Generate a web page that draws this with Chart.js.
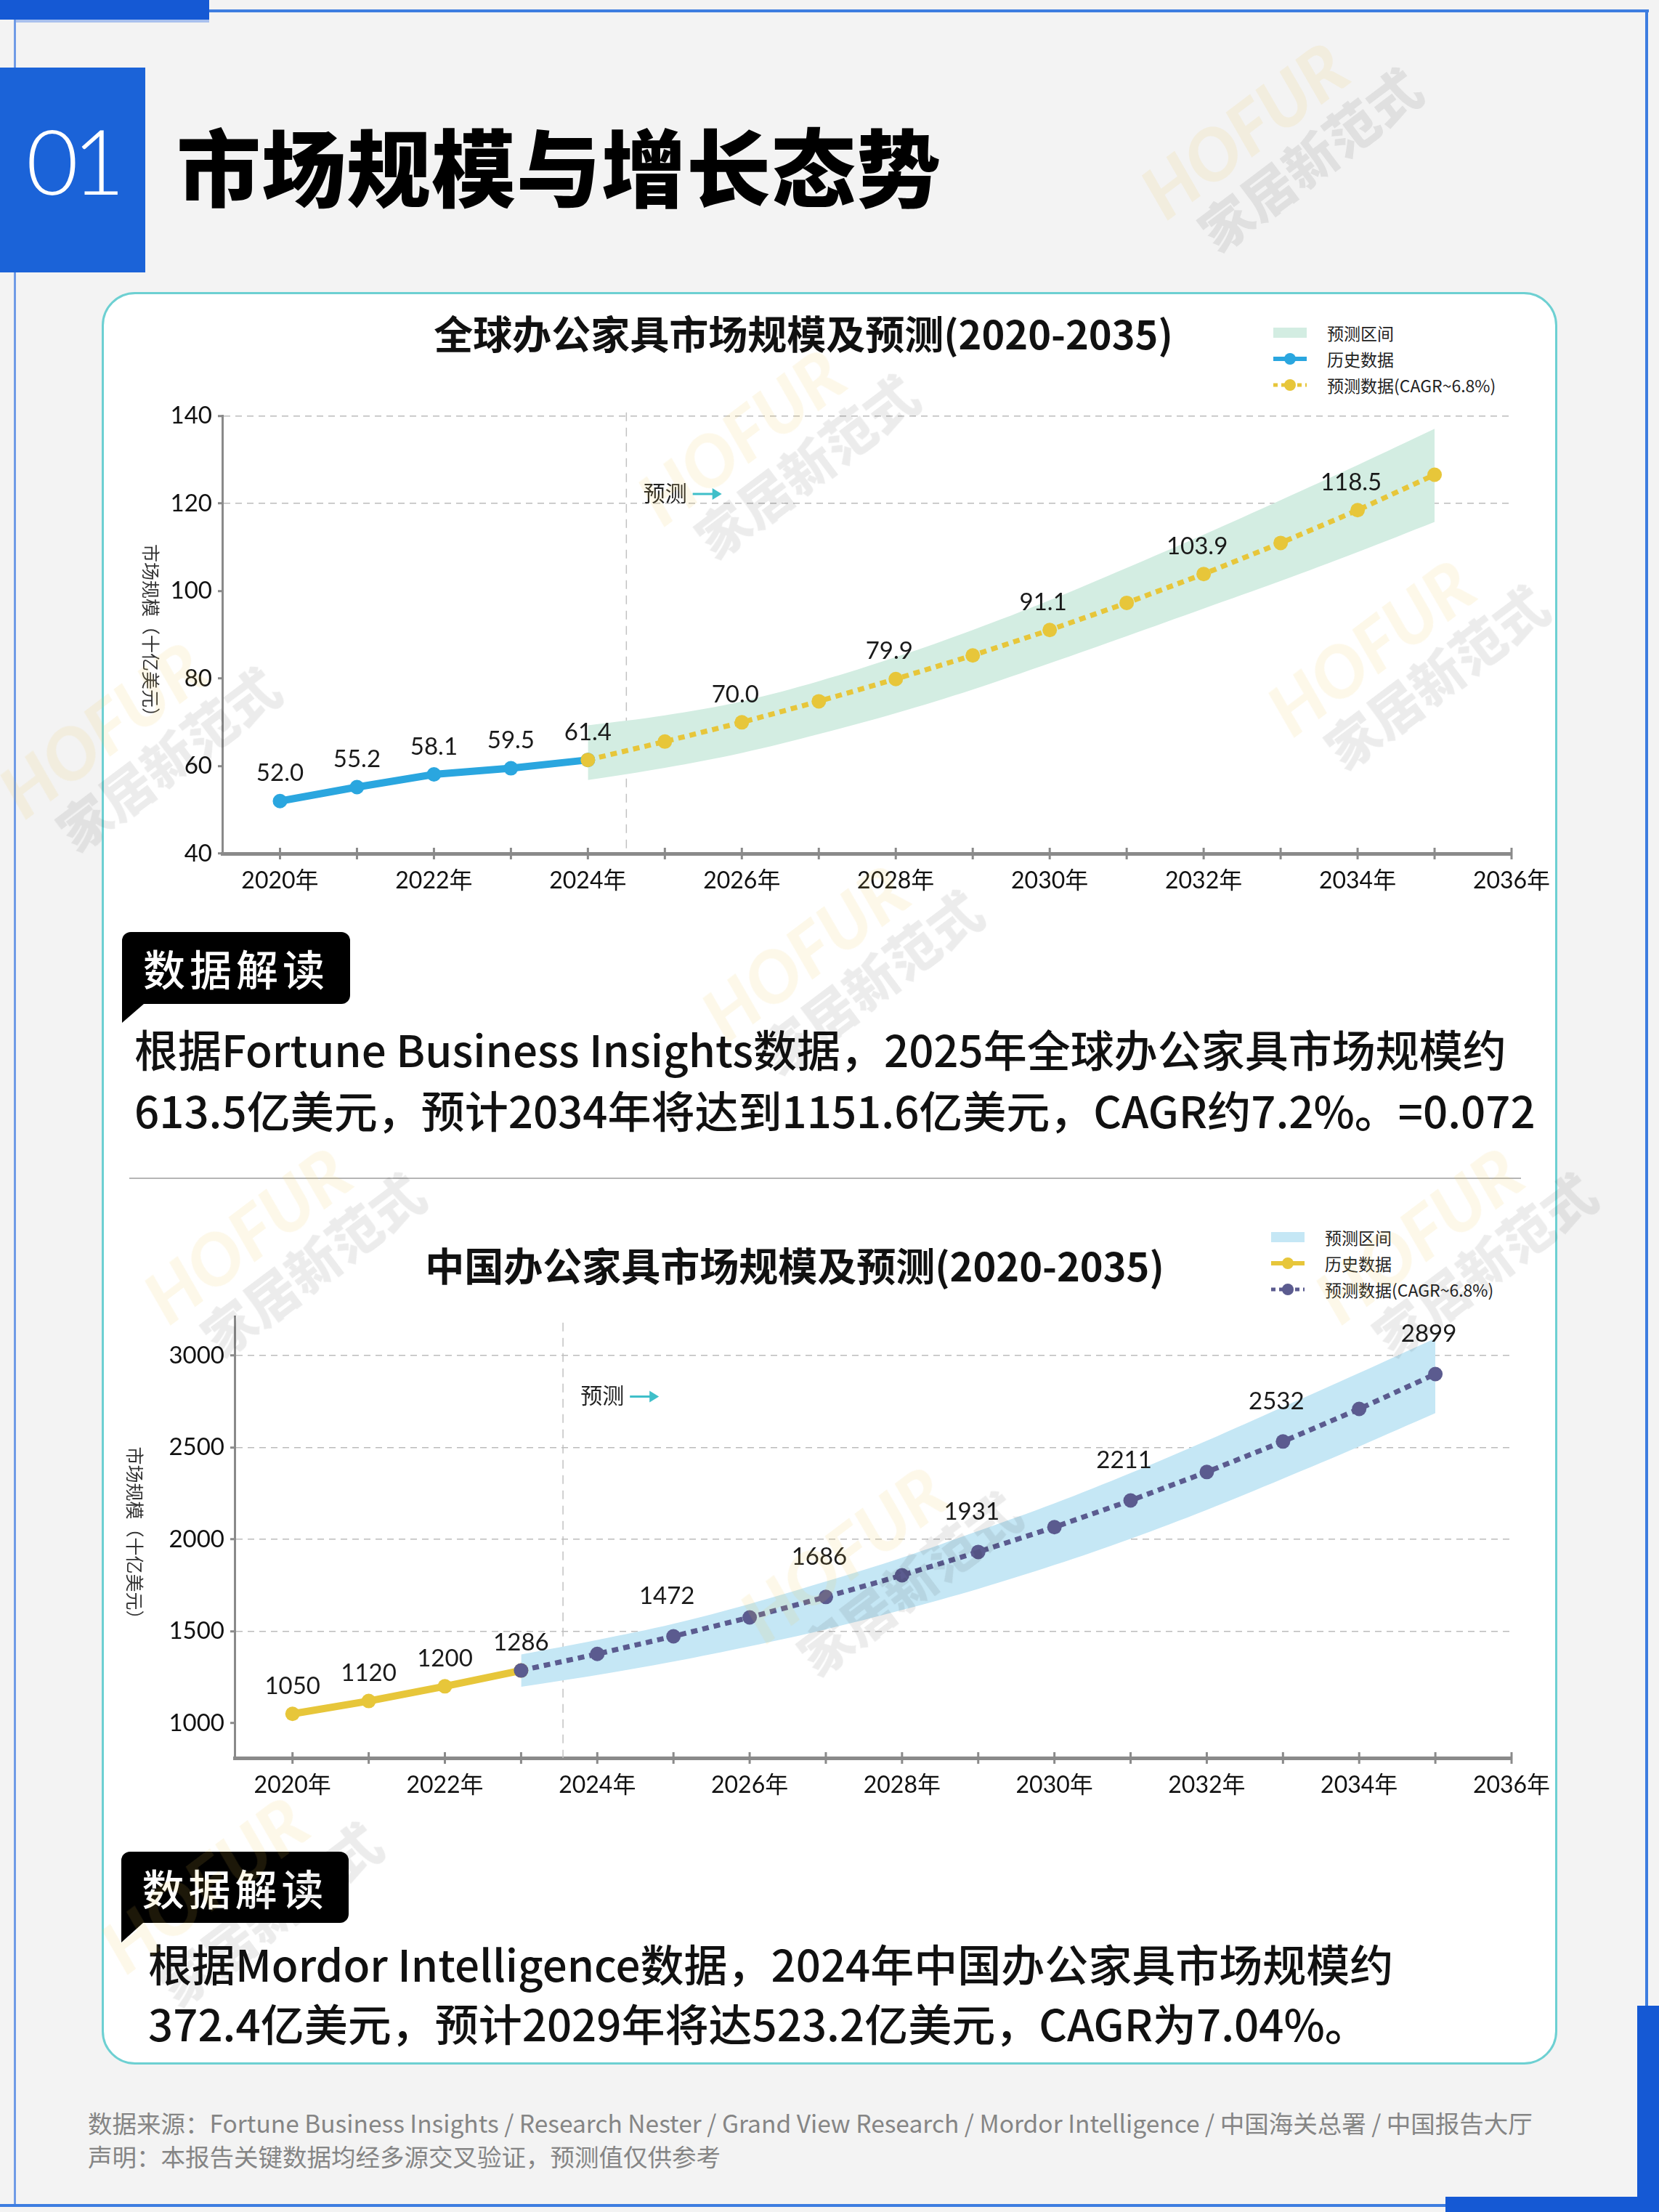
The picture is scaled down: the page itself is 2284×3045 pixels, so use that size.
<!DOCTYPE html>
<html lang="zh-CN">
<head>
<meta charset="utf-8">
<title>市场规模与增长态势</title>
<script src="https://cdn.jsdelivr.net/npm/chart.js@4.4.1/dist/chart.umd.min.js"></script>
<style>
html, body { margin: 0; padding: 0; }
body { width: 2284px; height: 3045px; position: relative; overflow: hidden; background: #f3f3f3; font-family: 'Noto Sans CJK SC', sans-serif; color: #111; }
.abs { position: absolute; }
.blue-dark { background: #1559d4; }
.blue-line { background: #3d7de0; }
.num-blk { left: 0; top: 93px; width: 200px; height: 282px; background: #1b63d8; color: #fff; font-family: Lato, sans-serif; font-weight: 300; font-size: 124px; line-height: 254px; text-align: center; letter-spacing: -8px; }
.page-title { left: 243px; top: 166px; font-size: 116px; line-height: 118px; font-weight: 900; color: #000; white-space: nowrap; letter-spacing: 1px; }
.card { left: 140px; top: 402px; width: 2004px; height: 2440px; box-sizing: border-box; background: #fff; border: 3px solid #6dd0d2; border-radius: 46px; }
.ctitle { transform: translateX(-50%); font-size: 54px; line-height: 60px; font-weight: 700; white-space: nowrap; color: #111; }
.legend { font-size: 23px; color: #222; }
.lg-row { display: flex; align-items: center; height: 36px; }
.lg-row svg { margin-right: 28px; }
.chart-box { width: 2000px; height: 700px; }
.tag { background: #000; color: #fff; border-radius: 12px; font-size: 58px; font-weight: 500; letter-spacing: 6px; text-align: center; }
.para { font-size: 60px; font-weight: 500; color: #111; white-space: nowrap; }
.sep { left: 178px; top: 1621px; width: 1916px; height: 2px; background: #b5b5b5; }
.foot { left: 121px; top: 2899px; font-size: 33.5px; line-height: 46px; color: #858585; white-space: nowrap; }
.wm { transform: translate(-50%, -50%) rotate(-37deg); pointer-events: none; z-index: 20; white-space: nowrap; }
.wm .en { display: block; font-family: Lato, sans-serif; font-weight: 900; font-style: italic; font-size: 98px; line-height: 92px; color: rgba(242, 196, 70, 0.12); }
.wm .cn { display: block; margin-left: 30px; font-weight: 900; font-size: 72px; line-height: 80px; color: rgba(0, 0, 0, 0.075); }
</style>
</head>
<body>

<div class="abs blue-dark" style="left:0;top:0;width:288px;height:27px"></div>
<div class="abs" style="left:22px;top:27px;width:266px;height:4px;background:#a9c1ee"></div>
<div class="abs blue-line" style="left:288px;top:13px;width:1982px;height:4px"></div>
<div class="abs blue-line" style="left:2265px;top:13px;width:4px;height:2750px"></div>
<div class="abs" style="left:19px;top:27px;width:3px;height:3008px;background:#6f9be6"></div>
<div class="abs blue-dark" style="left:2254px;top:2761px;width:30px;height:284px"></div>
<div class="abs blue-line" style="left:0;top:3034px;width:1990px;height:4px"></div>
<div class="abs blue-dark" style="left:1990px;top:3024px;width:294px;height:21px"></div>

<div class="abs num-blk">01</div>
<div class="abs page-title">市场规模与增长态势</div>

<div class="abs card"></div>

<div class="abs ctitle" style="left:1106px;top:428px">全球办公家具市场规模及预测(2020-2035)</div>
<div class="abs legend" id="legendGlobal" style="left:1753px;top:440px"></div>
<div class="abs chart-box" style="left:160px;top:545px"><canvas id="chartGlobal"></canvas></div>

<div class="abs tag" style="left:168px;top:1283px;width:314px;height:99px;line-height:99px">数据解读</div>
<svg class="abs" style="left:168px;top:1370px" width="34" height="40"><polygon points="0,0 30,12 0,38" fill="#000"/></svg>
<div class="abs para" style="left:185px;top:1401px;line-height:84px">根据Fortune Business Insights数据，2025年全球办公家具市场规模约<br>613.5亿美元，预计2034年将达到1151.6亿美元，CAGR约7.2%。=0.072</div>

<div class="abs sep"></div>

<div class="abs ctitle" style="left:1094px;top:1711px">中国办公家具市场规模及预测(2020-2035)</div>
<div class="abs legend" id="legendChina" style="left:1750px;top:1685px"></div>
<div class="abs chart-box" style="left:160px;top:1785px"><canvas id="chartChina"></canvas></div>

<div class="abs tag" style="left:167px;top:2549px;width:313px;height:98px;line-height:98px">数据解读</div>
<svg class="abs" style="left:167px;top:2635px" width="34" height="42"><polygon points="0,0 30,12 0,39" fill="#000"/></svg>
<div class="abs para" style="left:204px;top:2661px;line-height:82px">根据Mordor Intelligence数据，2024年中国办公家具市场规模约<br>372.4亿美元，预计2029年将达523.2亿美元，CAGR为7.04%。</div>

<div class="abs foot">数据来源：Fortune Business Insights / Research Nester / Grand View Research / Mordor Intelligence / 中国海关总署 / 中国报告大厅<br>声明：本报告关键数据均经多源交叉验证，预测值仅供参考</div>

<div class="abs wm" style="left:1762px;top:190px"><span class="en">HOFUR</span><span class="cn">家居新范式</span></div>
<div class="abs wm" style="left:1069px;top:612px"><span class="en">HOFUR</span><span class="cn">家居新范式</span></div>
<div class="abs wm" style="left:1936px;top:902px"><span class="en">HOFUR</span><span class="cn">家居新范式</span></div>
<div class="abs wm" style="left:190px;top:1015px"><span class="en">HOFUR</span><span class="cn">家居新范式</span></div>
<div class="abs wm" style="left:1157px;top:1322px"><span class="en">HOFUR</span><span class="cn">家居新范式</span></div>
<div class="abs wm" style="left:389px;top:1711px"><span class="en">HOFUR</span><span class="cn">家居新范式</span></div>
<div class="abs wm" style="left:2002px;top:1711px"><span class="en">HOFUR</span><span class="cn">家居新范式</span></div>
<div class="abs wm" style="left:1210px;top:2150px"><span class="en">HOFUR</span><span class="cn">家居新范式</span></div>
<div class="abs wm" style="left:330px;top:2605px"><span class="en">HOFUR</span><span class="cn">家居新范式</span></div>

<script>
// x axis: one tick per year, labels on even years
const xTickYears = [2020, 2021, 2022, 2023, 2024, 2025, 2026, 2027, 2028, 2029, 2030, 2031, 2032, 2033, 2034, 2035, 2036];
const legendLabels = ['预测区间', '历史数据', '预测数据(CAGR~6.8%)'];
const yAxisTitle = '市场规模（十亿美元）';
const noteText = '预测';

// global market (billion USD)
const globalHistYears = [2020, 2021, 2022, 2023, 2024];
const globalHist = [52.0, 55.2, 58.1, 59.5, 61.4];
const globalFcYears = [2024, 2025, 2026, 2027, 2028, 2029, 2030, 2031, 2032, 2033, 2034, 2035];
const globalFc = [61.4, 65.6, 70.0, 74.8, 79.9, 85.3, 91.1, 97.3, 103.9, 111.0, 118.5, 126.6];
const globalBandHigh = [69.3, 71.6, 74.8, 79.4, 84.9, 91.1, 97.9, 105.3, 112.9, 120.8, 128.8, 137.1];
const globalBandLow = [56.8, 59.6, 63.0, 67.3, 72.1, 77.5, 83.5, 89.7, 96.0, 102.3, 108.9, 115.8];
const globalHistLabelYears = [2020, 2021, 2022, 2023, 2024];
const globalFcLabelYears = [2026, 2028, 2030, 2032, 2034];
const globalYTicks = [40, 60, 80, 100, 120, 140];

// china market (billion USD)
const chinaHistYears = [2020, 2021, 2022, 2023];
const chinaHist = [1050, 1120, 1200, 1286];
const chinaFcYears = [2023, 2024, 2025, 2026, 2027, 2028, 2029, 2030, 2031, 2032, 2033, 2034, 2035];
const chinaFc = [1286, 1376, 1472, 1575, 1686, 1804, 1931, 2066, 2211, 2366, 2532, 2709, 2899];
const chinaBandHigh = [1373, 1452, 1540, 1648, 1770, 1900, 2045, 2195, 2360, 2536, 2720, 2905, 3094];
const chinaBandLow = [1197, 1262, 1335, 1418, 1510, 1615, 1730, 1860, 2003, 2160, 2330, 2505, 2686];
const chinaHistLabelYears = [2020, 2021, 2022, 2023];
const chinaFcLabelYears = [2025, 2027, 2029, 2031, 2033, 2035];
const chinaYTicks = [1000, 1500, 2000, 2500, 3000];

const FONT = "Lato, 'Noto Sans CJK SC', sans-serif";
const AXIS_GREY = '#8a8a8a';

function xy(xs, ys) {
    return xs.map((x, i) => ({ x: x, y: ys[i] }));
}

// divider line, point values, "预测 →" note, crossing x ticks, clockwise y title
const decorPlugin = {
    id: 'decor',
    beforeDatasetsDraw(chart, args, opts) {
        const { ctx, chartArea, scales } = chart;
        const px = scales.x.getPixelForValue(opts.divider);
        ctx.save();
        ctx.strokeStyle = '#c2c2c2';
        ctx.lineWidth = 1.5;
        ctx.setLineDash([12, 9]);
        ctx.beginPath();
        ctx.moveTo(px, chartArea.top + opts.dividerTop);
        ctx.lineTo(px, chartArea.bottom);
        ctx.stroke();
        ctx.restore();
    },
    afterDatasetsDraw(chart, args, opts) {
        const { ctx, scales } = chart;
        ctx.save();
        ctx.fillStyle = '#1a1a1a';
        ctx.font = '33px ' + FONT;
        ctx.textAlign = 'center';
        ctx.textBaseline = 'middle';
        chart.data.datasets.forEach((ds, i) => {
            if (!ds.labelYears) return;
            const meta = chart.getDatasetMeta(i);
            ds.data.forEach((d, j) => {
                if (ds.labelYears.indexOf(d.x) === -1) return;
                const pt = meta.data[j];
                ctx.fillText(d.y.toFixed(ds.labelDigits), pt.x + ds.labelShift, pt.y - ds.labelOffset);
            });
        });

        const nx = scales.x.getPixelForValue(opts.noteX);
        const ny = scales.y.getPixelForValue(opts.noteY);
        ctx.font = '30px ' + FONT;
        ctx.textAlign = 'left';
        ctx.fillStyle = '#222';
        ctx.fillText(noteText, nx, ny);
        const ax = nx + ctx.measureText(noteText).width + 8;
        ctx.strokeStyle = '#3fbfc9';
        ctx.fillStyle = '#3fbfc9';
        ctx.lineWidth = 3;
        ctx.beginPath();
        ctx.moveTo(ax, ny);
        ctx.lineTo(ax + 32, ny);
        ctx.stroke();
        ctx.beginPath();
        ctx.moveTo(ax + 40, ny);
        ctx.lineTo(ax + 27, ny - 8);
        ctx.lineTo(ax + 27, ny + 8);
        ctx.closePath();
        ctx.fill();
        ctx.restore();
    },
    afterDraw(chart, args, opts) {
        const { ctx, chartArea, scales } = chart;
        ctx.save();
        ctx.strokeStyle = AXIS_GREY;
        ctx.lineWidth = 3;
        xTickYears.forEach(v => {
            const px = scales.x.getPixelForValue(v);
            ctx.beginPath();
            ctx.moveTo(px, chartArea.bottom - 8);
            ctx.lineTo(px, chartArea.bottom + 8);
            ctx.stroke();
        });
        ctx.translate(opts.titleX, (chartArea.top + chartArea.bottom) / 2);
        ctx.rotate(Math.PI / 2);
        ctx.font = '25px ' + FONT;
        ctx.fillStyle = '#333';
        ctx.textAlign = 'center';
        ctx.textBaseline = 'middle';
        ctx.fillText(yAxisTitle, 0, 0);
        ctx.restore();
    }
};

function buildLegend(id, c) {
    const swatches = [
        '<svg width="46" height="20"><rect x="0" y="3" width="46" height="14" fill="' + c.band + '"/></svg>',
        '<svg width="46" height="20"><line x1="0" y1="10" x2="46" y2="10" stroke="' + c.hist + '" stroke-width="6"/><circle cx="23" cy="10" r="8" fill="' + c.hist + '"/></svg>',
        '<svg width="46" height="20"><line x1="0" y1="10" x2="46" y2="10" stroke="' + c.fc + '" stroke-width="5" stroke-dasharray="6 5"/><circle cx="23" cy="10" r="8" fill="' + c.fc + '"/></svg>'
    ];
    document.getElementById(id).innerHTML = legendLabels.map((t, i) =>
        '<div class="lg-row">' + swatches[i] + '<span>' + t + '</span></div>').join('');
}

function marketChart(canvasId, cfg) {
    return new Chart(document.getElementById(canvasId), {
        type: 'line',
        data: {
            datasets: [
                {
                    label: legendLabels[2], data: xy(cfg.fcYears, cfg.fc),
                    borderColor: cfg.colors.fc, backgroundColor: cfg.colors.fc, pointBackgroundColor: cfg.colors.fc,
                    borderWidth: 7, borderDash: [9, 7], pointRadius: 10, pointBorderWidth: 0, tension: 0, fill: false,
                    labelYears: cfg.fcLabelYears, labelDigits: cfg.digits, labelOffset: cfg.fcLabelOffset, labelShift: -9
                },
                {
                    label: legendLabels[1], data: xy(cfg.histYears, cfg.hist),
                    borderColor: cfg.colors.hist, backgroundColor: cfg.colors.hist, pointBackgroundColor: cfg.colors.hist,
                    borderWidth: 10, pointRadius: 10, pointBorderWidth: 0, tension: 0, fill: false,
                    labelYears: cfg.histLabelYears, labelDigits: cfg.digits, labelOffset: 38, labelShift: 0
                },
                {
                    label: legendLabels[0] + '下限', data: xy(cfg.fcYears, cfg.bandLow),
                    borderWidth: 0, pointRadius: 0, tension: 0.35, fill: false
                },
                {
                    label: legendLabels[0], data: xy(cfg.fcYears, cfg.bandHigh),
                    borderWidth: 0, pointRadius: 0, tension: 0.35, fill: '-1', backgroundColor: cfg.colors.band
                }
            ]
        },
        options: {
            responsive: true,
            maintainAspectRatio: false,
            animation: false,
            events: [],
            layout: { padding: { top: 18, right: 79, left: 0, bottom: 0 } },
            plugins: {
                legend: { display: false },
                tooltip: { enabled: false },
                decor: { divider: cfg.divider, dividerTop: cfg.dividerTop, noteX: cfg.noteX, noteY: cfg.noteY, titleX: cfg.titleX }
            },
            scales: {
                x: {
                    type: 'linear', min: cfg.xMin, max: 2036,
                    afterBuildTicks: s => { s.ticks = xTickYears.map(v => ({ value: v })); },
                    afterFit: s => { s.height = cfg.xHeight; },
                    grid: { drawOnChartArea: false, drawTicks: true, tickLength: 8, tickWidth: 3, tickColor: 'rgba(0,0,0,0)' },
                    border: { color: AXIS_GREY, width: 5 },
                    ticks: {
                        autoSkip: false, maxRotation: 0, padding: 10, color: '#111',
                        font: { family: FONT, size: 32 },
                        callback: v => (v % 2 === 0 ? v + '年' : '')
                    }
                },
                y: {
                    min: cfg.yMin, max: cfg.yMax,
                    afterBuildTicks: s => { s.ticks = cfg.yTicks.map(v => ({ value: v })); },
                    afterFit: s => { s.width = cfg.yWidth; },
                    grid: {
                        color: c => (c.tick && c.tick.value >= cfg.gridFrom ? '#bcbcbc' : 'rgba(0,0,0,0)'),
                        lineWidth: 1.5, tickLength: 6, tickWidth: 3, tickColor: AXIS_GREY
                    },
                    border: { color: AXIS_GREY, width: 3, dash: [9, 7] },
                    ticks: { padding: 8, color: '#111', font: { family: FONT, size: 33 }, callback: v => String(v) }
                }
            }
        },
        plugins: [decorPlugin]
    });
}

function initCharts() {
    const globalColors = { band: '#d3ede2', hist: '#2aa6df', fc: '#e7c63a' };
    const chinaColors = { band: '#c5e7f5', hist: '#e7c63a', fc: '#5b5b8f' };
    buildLegend('legendGlobal', globalColors);
    buildLegend('legendChina', chinaColors);

    marketChart('chartGlobal', {
        histYears: globalHistYears, hist: globalHist,
        fcYears: globalFcYears, fc: globalFc,
        bandHigh: globalBandHigh, bandLow: globalBandLow,
        histLabelYears: globalHistLabelYears, fcLabelYears: globalFcLabelYears,
        yTicks: globalYTicks, yMin: 40, yMax: 140, gridFrom: 120,
        xMin: 2019.25, yWidth: 146, xHeight: 70, digits: 1, fcLabelOffset: 38,
        divider: 2024.5, dividerTop: -5, noteX: 2024.72, noteY: 122.2, titleX: 46,
        colors: globalColors
    });

    marketChart('chartChina', {
        histYears: chinaHistYears, hist: chinaHist,
        fcYears: chinaFcYears, fc: chinaFc,
        bandHigh: chinaBandHigh, bandLow: chinaBandLow,
        histLabelYears: chinaHistLabelYears, fcLabelYears: chinaFcLabelYears,
        yTicks: chinaYTicks, yMin: 810, yMax: 3210, gridFrom: 1500,
        xMin: 2019.24, yWidth: 163, xHeight: 65, digits: 0, fcLabelOffset: 55,
        divider: 2023.55, dividerTop: 8, noteX: 2023.78, noteY: 2776, titleX: 24,
        colors: chinaColors
    });
}

initCharts();
</script>
</body>
</html>
